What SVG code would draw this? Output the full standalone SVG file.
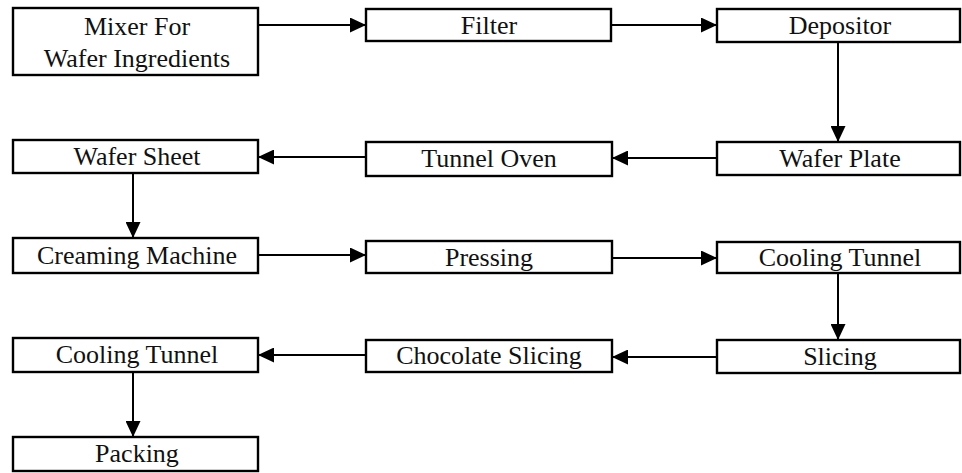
<svg xmlns="http://www.w3.org/2000/svg" width="962" height="473" viewBox="0 0 962 473">
<style>
.box{fill:#fff;stroke:#000;stroke-width:2.4}
.lbl{font-family:"Liberation Serif","Times New Roman",serif;font-size:26px;fill:#111;text-anchor:middle}
.con{stroke:#000;stroke-width:2;fill:none;marker-end:url(#ah)}
</style>
<defs>
<marker id="ah" markerUnits="userSpaceOnUse" markerWidth="17" markerHeight="15" refX="16" refY="7.5" orient="auto">
<path d="M0,0 L16,7.5 L0,15 Z" fill="#000"/>
</marker>
</defs>
<rect width="962" height="473" fill="#fff"/>
<g id="connectors">
<path class="con" d="M258,25 H366"/>
<path class="con" d="M611,25 H717"/>
<path class="con" d="M838,42 V142"/>
<path class="con" d="M717,158 H612"/>
<path class="con" d="M366,157 H258"/>
<path class="con" d="M133,173 V238"/>
<path class="con" d="M258,255 H366"/>
<path class="con" d="M612,258 H717"/>
<path class="con" d="M838,273 V340"/>
<path class="con" d="M717,357 H612"/>
<path class="con" d="M366,355 H258"/>
<path class="con" d="M133,372 V437"/>
</g>
<g id="n1"><rect class="box" x="13" y="8" width="245" height="67"/><text class="lbl" x="137" y="35">Mixer For</text><text class="lbl" x="137" y="67">Wafer Ingredients</text></g>
<g id="n2"><rect class="box" x="366" y="9" width="245" height="32"/><text class="lbl" x="489" y="34">Filter</text></g>
<g id="n3"><rect class="box" x="717" y="9" width="243" height="33"/><text class="lbl" x="840" y="34">Depositor</text></g>
<g id="n4"><rect class="box" x="717" y="142" width="243" height="33"/><text class="lbl" x="840" y="167">Wafer Plate</text></g>
<g id="n5"><rect class="box" x="366" y="142" width="246" height="34"/><text class="lbl" x="489" y="167">Tunnel Oven</text></g>
<g id="n6"><rect class="box" x="13" y="140" width="245" height="33"/><text class="lbl" x="137" y="165">Wafer Sheet</text></g>
<g id="n7"><rect class="box" x="13" y="238" width="245" height="35"/><text class="lbl" x="137" y="264">Creaming Machine</text></g>
<g id="n8"><rect class="box" x="366" y="241" width="246" height="32"/><text class="lbl" x="489" y="266">Pressing</text></g>
<g id="n9"><rect class="box" x="717" y="242" width="243" height="31"/><text class="lbl" x="840" y="266">Cooling Tunnel</text></g>
<g id="n10"><rect class="box" x="717" y="340" width="243" height="33"/><text class="lbl" x="840" y="365">Slicing</text></g>
<g id="n11"><rect class="box" x="366" y="340" width="246" height="32"/><text class="lbl" x="489" y="364">Chocolate Slicing</text></g>
<g id="n12"><rect class="box" x="13" y="338" width="245" height="34"/><text class="lbl" x="137" y="363">Cooling Tunnel</text></g>
<g id="n13"><rect class="box" x="13" y="437" width="245" height="34"/><text class="lbl" x="137" y="462">Packing</text></g>
</svg>
